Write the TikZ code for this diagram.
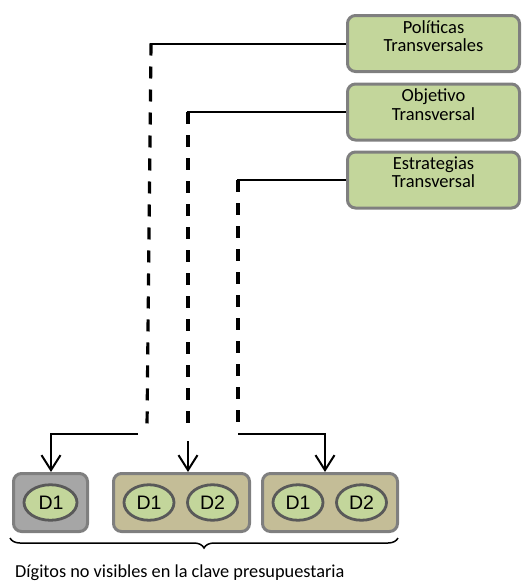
\documentclass[tikz,border=0pt]{standalone}
\usepackage{fontspec}
\setmainfont{Carlito}
\newfontfamily\digitfont{Liberation Sans}
\usetikzlibrary{arrows.meta,positioning,decorations.pathreplacing,shapes.geometric}

\definecolor{boxgreen}{HTML}{C3D69B}
\definecolor{boxtan}{HTML}{C4BD97}
\definecolor{boxgray}{HTML}{A6A6A6}
\definecolor{edgegray}{HTML}{7F7F7F}
\definecolor{ringgray}{HTML}{595959}

\tikzset{
  topbox/.style={draw=edgegray, fill=boxgreen, line width=3pt, rounded corners=8pt,
                 minimum width=172pt, minimum height=56pt, inner sep=0pt},
  toptext/.style={font=\fontsize{18.5}{18.5}\selectfont, align=center, inner sep=0pt},
  digitbox/.style={draw=edgegray, line width=3pt, rounded corners=8pt,
                   minimum height=58pt, inner sep=0pt},
  digit/.style={ellipse, draw=ringgray, fill=boxgreen, line width=2.8pt,
                minimum width=50pt, minimum height=35.5pt, inner sep=0pt,
                font=\digitfont\fontsize{19.5}{19.5}\selectfont},
  link/.style={line width=2pt, draw=black},
  dashlink/.style={line width=3.2pt, draw=black, dash pattern=on 12pt off 11pt},
  pointer/.style={line width=2pt, draw=black, -{Straight Barb[length=15pt,width=19pt,line width=2pt]}},
}

\begin{document}
\begin{tikzpicture}[x=1pt,y=-1pt]
  \useasboundingbox (0,0) rectangle (524,584);

  % category boxes on the right
  \node[topbox] (p1) at (433.5,43.5) {};
  \node[topbox] (p2) at (433.5,112) {};
  \node[topbox] (p3) at (433.5,180) {};
  \node[toptext, anchor=north] (t1) at ([yshift=-6pt]p1.north) {Políticas\\Transversales};
  \node[toptext, anchor=north] (t2) at ([yshift=-6pt]p2.north) {Objetivo\\Transversal};
  \node[toptext, anchor=north] (t3) at ([yshift=-6pt]p3.north) {Estrategias\\Transversal};

  % digit groups at the bottom
  \node[digitbox, fill=boxgray, minimum width=74pt]  (ga) at (50.5,502.5) {};
  \node[digitbox, fill=boxtan,  minimum width=136pt] (gb) at (181.5,502.5) {};
  \node[digitbox, fill=boxtan,  minimum width=135pt] (gc) at (330,502.5) {};

  \node[digit, minimum width=53pt, text width=24pt, align=right] (a1) at (50.5,502.5) {D1};
  \node[digit] (b1) at (149,502.5) {D1};
  \node[digit] (b2) at (212.5,502.5) {D2};
  \node[digit] (c1) at (298,502.5) {D1};
  \node[digit] (c2) at (361.5,502.5) {D2};

  % bend points of the connectors
  \coordinate (k1) at (151,0 |- p1.west);
  \coordinate (k2) at (188,0 |- p2.west);
  \coordinate (k3) at (238,0 |- p3.west);
  \coordinate (e1) at (147,428);
  \coordinate (e2) at (188,428);
  \coordinate (e3) at (238,428);
  \coordinate (s1) at (138,434);
  \coordinate (s2) at (188,441);
  \coordinate (s3) at (238,434);
  \coordinate (d1) at (51,434);
  \coordinate (d3) at (325,434);

  % solid feeders from the category boxes
  \draw[link] (p1.west) -- ([xshift=-1pt]k1);
  \draw[link] (p2.west) -- ([xshift=-1pt]k2);
  \draw[link] (p3.west) -- ([xshift=-1pt]k3);

  % dashed runs down the page
  \draw[dashlink] (k1) -- (e1);
  \draw[dashlink] (k2) -- (e2);
  \draw[dashlink] (k3) -- (e3);

  % arrows into the digit groups
  \draw[pointer] (s1) -- (d1) -- (d1 |- ga.north);
  \draw[pointer] (s2) -- (s2 |- gb.north);
  \draw[pointer] (s3) -- (d3) -- (d3 |- gc.north);

  % brace under the groups
  \draw[line width=1.5pt, decorate, decoration={brace, mirror, amplitude=10pt}]
    (10,538) -- (398,538) coordinate[midway] (bm);
  \node[font=\fontsize{18.3}{20}\selectfont, anchor=west, inner sep=0pt] (cap) at (15,573)
    {Dígitos no visibles en la clave presupuestaria};
\end{tikzpicture}
\end{document}
